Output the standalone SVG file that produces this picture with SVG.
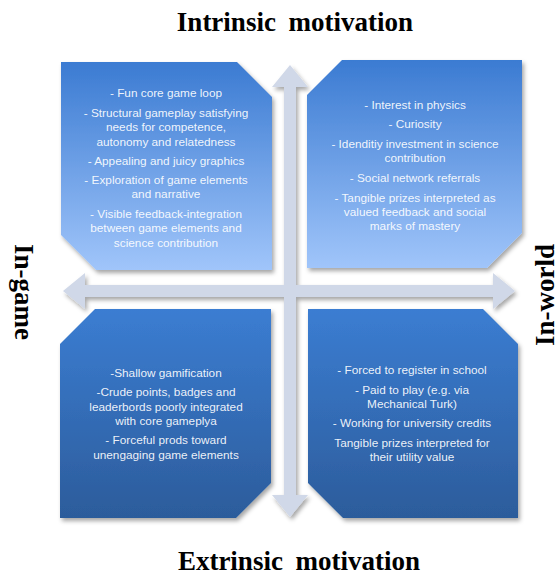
<svg xmlns="http://www.w3.org/2000/svg" width="559" height="576" viewBox="0 0 559 576">
  <style>
    .axis { font-family: "Liberation Serif", "Times New Roman", serif; font-weight: bold; font-size: 27px; fill: #000; word-spacing: 6px; }
    .item { font-family: "Liberation Sans", Arial, sans-serif; font-size: 11.8px; fill: #ffffff; fill-opacity: 0.92; text-anchor: middle; }
    .arrow { fill: #d0d8e8; }
  </style>
  <defs>
    <linearGradient id="gradTop" x1="0" y1="0" x2="0" y2="1">
      <stop offset="0" stop-color="#3b7bd2"/>
      <stop offset="1" stop-color="#a0c5fa"/>
    </linearGradient>
    <linearGradient id="gradBottom" x1="0" y1="0" x2="0" y2="1">
      <stop offset="0" stop-color="#3b7dd2"/>
      <stop offset="1" stop-color="#2c5c9b"/>
    </linearGradient>
    <filter id="shadow" x="-10%" y="-10%" width="125%" height="125%">
      <feDropShadow dx="2" dy="3" stdDeviation="2.2" flood-color="#000" flood-opacity="0.35"/>
    </filter>
  </defs>

  <!-- axis titles -->
  <g id="label-intrinsic"><text class="axis" x="295" y="31" text-anchor="middle">Intrinsic motivation</text></g>
  <g id="label-extrinsic"><text class="axis" x="299" y="570" text-anchor="middle">Extrinsic motivation</text></g>
  <g id="label-ingame"><text class="axis" transform="translate(15,292) rotate(90)" text-anchor="middle" style="word-spacing:0">In-game</text></g>
  <g id="label-inworld"><text class="axis" transform="translate(554,295) rotate(-90)" text-anchor="middle" style="word-spacing:0">In-world</text></g>

  <!-- quadrant: in-game / intrinsic -->
  <g id="quadrant-ingame-intrinsic">
    <path d="M61,62 H237 L272,97 V270 H96 L61,235 Z" fill="url(#gradTop)" filter="url(#shadow)"/>
    <text class="item" x="166" y="97">- Fun core game loop</text>
    <text class="item" x="166" y="117">- Structural gameplay satisfying</text>
    <text class="item" x="166" y="131">needs for competence,</text>
    <text class="item" x="166" y="146">autonomy and relatedness</text>
    <text class="item" x="166" y="165">- Appealing and juicy graphics</text>
    <text class="item" x="166" y="184">- Exploration of game elements</text>
    <text class="item" x="166" y="198">and narrative</text>
    <text class="item" x="166" y="218">- Visible feedback-integration</text>
    <text class="item" x="166" y="232">between  game elements and</text>
    <text class="item" x="166" y="247">science contribution</text>
  </g>

  <!-- quadrant: in-world / intrinsic -->
  <g id="quadrant-inworld-intrinsic">
    <path d="M342,60 H522 V233 L487,268 H307 V95 Z" fill="url(#gradTop)" filter="url(#shadow)"/>
    <text class="item" x="415" y="109">- Interest  in physics</text>
    <text class="item" x="415" y="128">- Curiosity</text>
    <text class="item" x="415" y="148">- Idenditiy investment  in science</text>
    <text class="item" x="415" y="162">contribution</text>
    <text class="item" x="415" y="182">- Social network referrals</text>
    <text class="item" x="415" y="202">- Tangible prizes interpreted  as</text>
    <text class="item" x="415" y="216">valued feedback  and social</text>
    <text class="item" x="415" y="230">marks of mastery</text>
  </g>

  <!-- quadrant: in-game / extrinsic -->
  <g id="quadrant-ingame-extrinsic">
    <path d="M95,309 H271 V483 L236,518 H60 V344 Z" fill="url(#gradBottom)" filter="url(#shadow)"/>
    <text class="item" x="166" y="377">-Shallow gamification</text>
    <text class="item" x="166" y="396">-Crude points, badges and</text>
    <text class="item" x="166" y="411">leaderbords poorly integrated</text>
    <text class="item" x="166" y="425">with core gameplya</text>
    <text class="item" x="166" y="444">- Forceful prods toward</text>
    <text class="item" x="166" y="459">unengaging game elements</text>
  </g>

  <!-- quadrant: in-world / extrinsic -->
  <g id="quadrant-inworld-extrinsic">
    <path d="M308,309 H483 L518,344 V518 H343 L308,483 Z" fill="url(#gradBottom)" filter="url(#shadow)"/>
    <text class="item" x="412" y="374">- Forced to register in school</text>
    <text class="item" x="412" y="394">- Paid to play (e.g. via</text>
    <text class="item" x="412" y="408">Mechanical Turk)</text>
    <text class="item" x="412" y="427">- Working for university credits</text>
    <text class="item" x="412" y="447">Tangible prizes interpreted for</text>
    <text class="item" x="412" y="461">their utility value</text>
  </g>

  <!-- axes: two double-headed arrows -->
  <g id="connectors" class="arrow" filter="url(#shadow)">
    <polygon points="290,65 308,87 296,87 296,495 308,495 290,517 272,495 284,495 284,87 272,87"/>
    <polygon points="63,291 85,273 85,285 493,285 493,273 515,291 493,309 493,297 85,297 85,309"/>
  </g>
</svg>
